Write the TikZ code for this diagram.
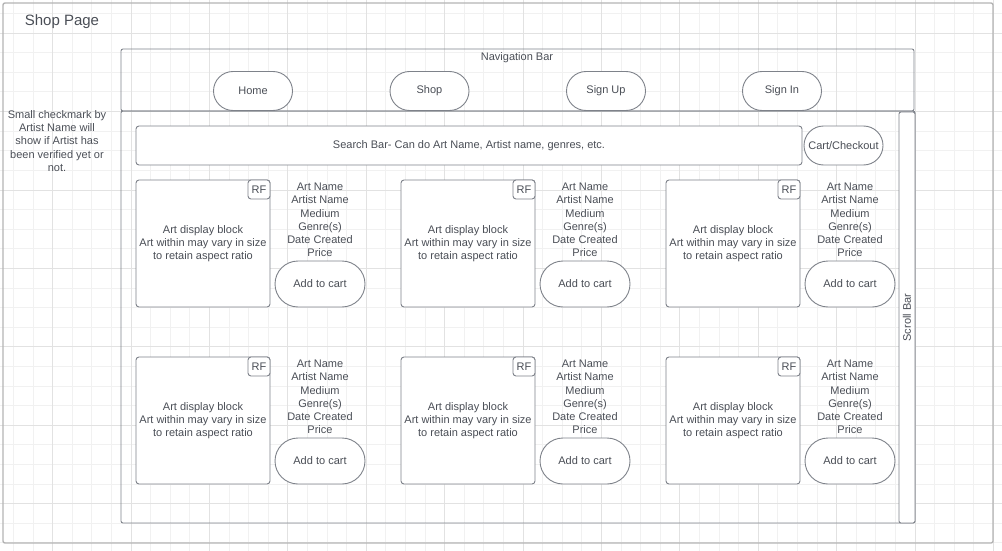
\documentclass[tikz,border=0pt]{standalone}
\usepackage{fontspec}
\setmainfont{Liberation Sans}
\usetikzlibrary{positioning}

\definecolor{linegray}{HTML}{7E828A}
\definecolor{textgray}{HTML}{4A4E56}
\definecolor{gridminor}{HTML}{F1F1F1}
\definecolor{gridmajor}{HTML}{E2E2E2}
\definecolor{framegray}{HTML}{B4B4B4}

\tikzset{
  box/.style={draw=linegray, line width=0.9pt, fill=white, rounded corners=3pt, inner sep=0pt,
    align=center, text=textgray, font=\fontsize{11}{13}\selectfont},
  navbtn/.style={box, rounded corners=19.5pt, minimum width=79pt, minimum height=39pt},
  cartbtn/.style={box, rounded corners=23pt, minimum width=90pt, minimum height=46pt},
  artbox/.style={box, minimum width=134pt, minimum height=127pt},
  rfbox/.style={box, minimum width=22pt, minimum height=19pt},
  info/.style={align=center, text=textgray, inner sep=0pt, font=\fontsize{11}{13.2}\selectfont}
}

\begin{document}
\begin{tikzpicture}[x=1pt, y=-1pt]
    \useasboundingbox (0,0) rectangle (1002,551);
    % grid
    \foreach \k in {0,...,50} \draw[gridminor, line width=0.8pt] (13.3+19.6*\k,0) -- ++(0,551);
    \foreach \k in {0,...,27} \draw[gridminor, line width=0.8pt] (0,13.5+19.6*\k) -- ++(1002,0);
    \foreach \m in {0,...,12} \draw[gridmajor, line width=0.8pt] (52.5+78.4*\m,0) -- ++(0,551);
    \foreach \m in {0,...,6} \draw[gridmajor, line width=0.8pt] (0,33.1+78.4*\m) -- ++(1002,0);

    % page frame
    \draw[framegray, line width=1.4pt, rounded corners=2pt] (3,3) rectangle (993,543);
    \node[info, font=\fontsize{15}{18}\selectfont] (title) at (62,22) {Shop Page};
    \node[info] (note) at (57,141) {Small checkmark by\\Artist Name will\\show if Artist has\\been verified yet or\\not.};

    % navigation bar
    \draw[linegray, line width=0.9pt, rounded corners=2pt] (121,49) rectangle (914,111);
    \node[info] (navlabel) at (517,58) {Navigation Bar};
    \node[navbtn] (home) at (253,91) {Home};
    \node[navbtn] (shop) at (429.5,91) {Shop};
    \node[navbtn] (signup) at (606,91) {Sign Up};
    \node[navbtn] (signin) at (782,91) {Sign In};

    % content area
    \draw[linegray, line width=0.9pt, rounded corners=2pt] (121,111) rectangle (915,523);
    \node[box, rounded corners=2pt, minimum width=16pt, minimum height=411pt] (scroll) at (907,317.5) {};
    \node[info, rotate=90] (scrolllabel) at (scroll) {Scroll Bar};
    \node[box, minimum width=666pt, minimum height=39pt] (search) at (469,145.5)
        {Search Bar- Can do Art Name, Artist name, genres, etc.};
    \node[navbtn] (cart) at (843.5,145.5) {Cart/Checkout};

    % art cards
    \foreach \c in {0,1,2} {
      \foreach \r in {0,1} {
        \node[artbox] (art-\c-\r) at (203+265*\c,243.5+177*\r)
            {Art display block\\Art within may vary in size\\to retain aspect ratio};
        \node[rfbox, anchor=north east] (rf-\c-\r) at (art-\c-\r.north east) {RF};
        \node[info] (details-\c-\r) at (320+265*\c,220+177*\r)
            {Art Name\\Artist Name\\Medium\\Genre(s)\\Date Created\\Price};
        \node[cartbtn] (add-\c-\r) at (320+265*\c,284+177*\r) {Add to cart};
      }
    }
\end{tikzpicture}
\end{document}
